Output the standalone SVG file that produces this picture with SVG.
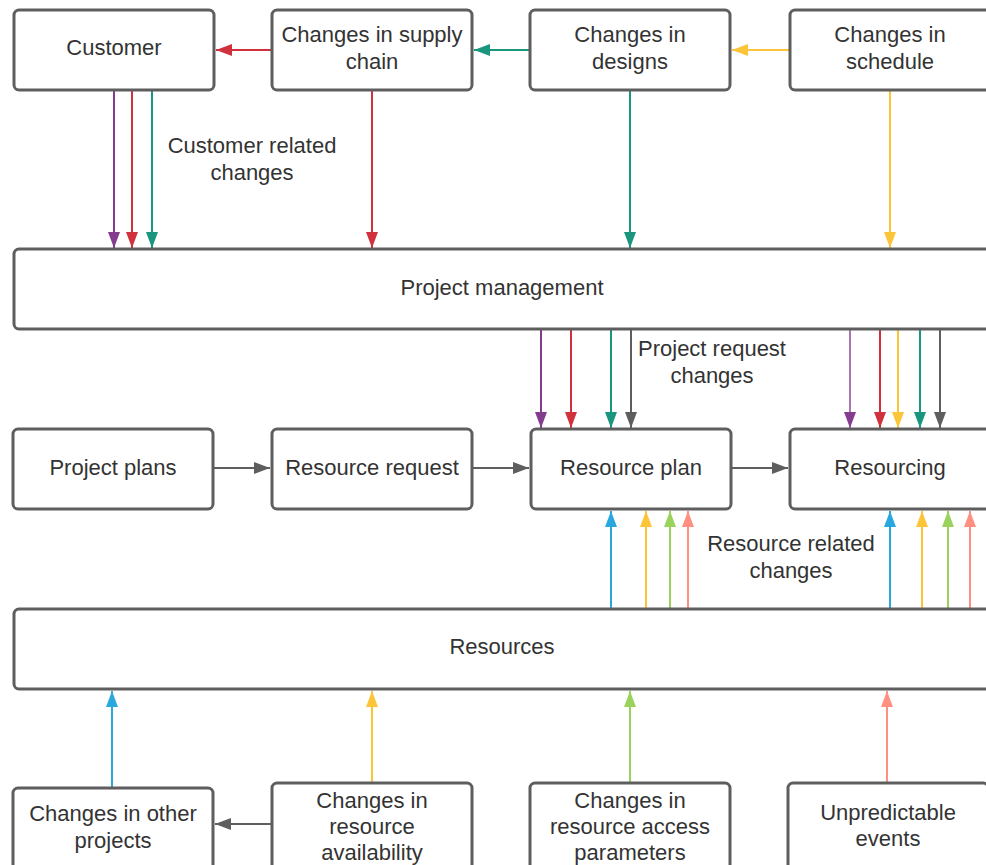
<svg xmlns="http://www.w3.org/2000/svg" width="986" height="865" viewBox="0 0 986 865">
  <style>
    .box { fill: #ffffff; stroke: #5e5e5e; stroke-width: 3; }
    .lbl { font-family: "Liberation Sans", Arial, sans-serif; font-size: 22px; fill: #333333; text-anchor: middle; }
    .ln { fill: none; stroke-width: 2; }
    .gray { stroke: #5e5e5e; }
    .purple { stroke: #843c8e; }
    .red { stroke: #d1313d; }
    .teal { stroke: #19967d; }
    .yellow { stroke: #fcc438; }
    .blue { stroke: #29a8e0; }
    .green { stroke: #99d35b; }
    .salmon { stroke: #ff8f80; }
  </style>
  <defs>
    <marker id="a-gray" markerUnits="userSpaceOnUse" markerWidth="17" markerHeight="12" refX="16" refY="6" orient="auto"><path d="M0,0 L16,6 L0,12 z" fill="#5e5e5e"/></marker>
    <marker id="a-purple" markerUnits="userSpaceOnUse" markerWidth="17" markerHeight="12" refX="16" refY="6" orient="auto"><path d="M0,0 L16,6 L0,12 z" fill="#843c8e"/></marker>
    <marker id="a-red" markerUnits="userSpaceOnUse" markerWidth="17" markerHeight="12" refX="16" refY="6" orient="auto"><path d="M0,0 L16,6 L0,12 z" fill="#d1313d"/></marker>
    <marker id="a-teal" markerUnits="userSpaceOnUse" markerWidth="17" markerHeight="12" refX="16" refY="6" orient="auto"><path d="M0,0 L16,6 L0,12 z" fill="#19967d"/></marker>
    <marker id="a-yellow" markerUnits="userSpaceOnUse" markerWidth="17" markerHeight="12" refX="16" refY="6" orient="auto"><path d="M0,0 L16,6 L0,12 z" fill="#fcc438"/></marker>
    <marker id="a-blue" markerUnits="userSpaceOnUse" markerWidth="17" markerHeight="12" refX="16" refY="6" orient="auto"><path d="M0,0 L16,6 L0,12 z" fill="#29a8e0"/></marker>
    <marker id="a-green" markerUnits="userSpaceOnUse" markerWidth="17" markerHeight="12" refX="16" refY="6" orient="auto"><path d="M0,0 L16,6 L0,12 z" fill="#99d35b"/></marker>
    <marker id="a-salmon" markerUnits="userSpaceOnUse" markerWidth="17" markerHeight="12" refX="16" refY="6" orient="auto"><path d="M0,0 L16,6 L0,12 z" fill="#ff8f80"/></marker>
  </defs>
  <rect width="986" height="865" fill="#ffffff"/>

  <!-- connectors -->
  <g id="connectors">
    <!-- top row, right to left -->
    <line class="ln red" x1="272" y1="50" x2="216" y2="50" marker-end="url(#a-red)"/>
    <line class="ln teal" x1="529" y1="50" x2="474" y2="50" marker-end="url(#a-teal)"/>
    <line class="ln yellow" x1="790" y1="50" x2="732" y2="50" marker-end="url(#a-yellow)"/>
    <!-- top row into project management -->
    <line class="ln purple" x1="114" y1="90" x2="114" y2="248" marker-end="url(#a-purple)"/>
    <line class="ln red" x1="132" y1="90" x2="132" y2="248" marker-end="url(#a-red)"/>
    <line class="ln teal" x1="152" y1="90" x2="152" y2="248" marker-end="url(#a-teal)"/>
    <line class="ln red" x1="372" y1="90" x2="372" y2="248" marker-end="url(#a-red)"/>
    <line class="ln teal" x1="630" y1="90" x2="630" y2="248" marker-end="url(#a-teal)"/>
    <line class="ln yellow" x1="890" y1="90" x2="890" y2="248" marker-end="url(#a-yellow)"/>
    <!-- project management into resource plan -->
    <line class="ln purple" x1="541" y1="330" x2="541" y2="428" marker-end="url(#a-purple)"/>
    <line class="ln red" x1="571" y1="330" x2="571" y2="428" marker-end="url(#a-red)"/>
    <line class="ln teal" x1="611" y1="330" x2="611" y2="428" marker-end="url(#a-teal)"/>
    <line class="ln gray" x1="631" y1="330" x2="631" y2="428" marker-end="url(#a-gray)"/>
    <!-- project management into resourcing -->
    <line class="ln purple" x1="850" y1="330" x2="850" y2="428" marker-end="url(#a-purple)" stroke-opacity="0.7"/>
    <line class="ln red" x1="880" y1="330" x2="880" y2="428" marker-end="url(#a-red)"/>
    <line class="ln yellow" x1="898" y1="330" x2="898" y2="428" marker-end="url(#a-yellow)"/>
    <line class="ln teal" x1="920" y1="330" x2="920" y2="428" marker-end="url(#a-teal)"/>
    <line class="ln gray" x1="940" y1="330" x2="940" y2="428" marker-end="url(#a-gray)"/>
    <!-- middle row flow -->
    <line class="ln gray" x1="213" y1="468" x2="270" y2="468" marker-end="url(#a-gray)"/>
    <line class="ln gray" x1="472" y1="468" x2="529" y2="468" marker-end="url(#a-gray)"/>
    <line class="ln gray" x1="731" y1="468" x2="788" y2="468" marker-end="url(#a-gray)"/>
    <!-- resources up into resource plan -->
    <line class="ln blue" x1="611" y1="608" x2="611" y2="511" marker-end="url(#a-blue)"/>
    <line class="ln yellow" x1="646" y1="608" x2="646" y2="511" marker-end="url(#a-yellow)"/>
    <line class="ln green" x1="670" y1="608" x2="670" y2="511" marker-end="url(#a-green)"/>
    <line class="ln salmon" x1="688" y1="608" x2="688" y2="511" marker-end="url(#a-salmon)"/>
    <!-- resources up into resourcing -->
    <line class="ln blue" x1="890" y1="608" x2="890" y2="511" marker-end="url(#a-blue)"/>
    <line class="ln yellow" x1="922" y1="608" x2="922" y2="511" marker-end="url(#a-yellow)"/>
    <line class="ln green" x1="948" y1="608" x2="948" y2="511" marker-end="url(#a-green)"/>
    <line class="ln salmon" x1="970" y1="608" x2="970" y2="511" marker-end="url(#a-salmon)"/>
    <!-- bottom row up into resources -->
    <line class="ln blue" x1="112" y1="788" x2="112" y2="691" marker-end="url(#a-blue)"/>
    <line class="ln yellow" x1="372" y1="783" x2="372" y2="691" marker-end="url(#a-yellow)"/>
    <line class="ln green" x1="630" y1="783" x2="630" y2="691" marker-end="url(#a-green)"/>
    <line class="ln salmon" x1="887" y1="783" x2="887" y2="691" marker-end="url(#a-salmon)"/>
    <line class="ln gray" x1="272" y1="824" x2="215" y2="824" marker-end="url(#a-gray)"/>
  </g>

  <!-- connector labels -->
  <g id="labels">
    <text class="lbl" x="252" y="153">Customer related</text>
    <text class="lbl" x="252" y="180">changes</text>
    <text class="lbl" x="712" y="356">Project request</text>
    <text class="lbl" x="712" y="383">changes</text>
    <text class="lbl" x="791" y="551">Resource related</text>
    <text class="lbl" x="791" y="578">changes</text>
  </g>

  <!-- top row -->
  <g id="customer">
    <rect class="box" x="14" y="10" width="200" height="80" rx="5"/>
    <text class="lbl" x="114" y="55">Customer</text>
  </g>
  <g id="supply-chain">
    <rect class="box" x="272" y="10" width="200" height="80" rx="5"/>
    <text class="lbl" x="372" y="42">Changes in supply</text>
    <text class="lbl" x="372" y="69">chain</text>
  </g>
  <g id="designs">
    <rect class="box" x="530" y="10" width="200" height="80" rx="5"/>
    <text class="lbl" x="630" y="42">Changes in</text>
    <text class="lbl" x="630" y="69">designs</text>
  </g>
  <g id="schedule">
    <rect class="box" x="790" y="10" width="200" height="80" rx="5"/>
    <text class="lbl" x="890" y="42">Changes in</text>
    <text class="lbl" x="890" y="69">schedule</text>
  </g>

  <!-- project management -->
  <g id="project-management">
    <rect class="box" x="14" y="249" width="976" height="80" rx="5"/>
    <text class="lbl" x="502" y="295">Project management</text>
  </g>

  <!-- middle row -->
  <g id="project-plans">
    <rect class="box" x="13" y="429" width="200" height="80" rx="5"/>
    <text class="lbl" x="113" y="475">Project plans</text>
  </g>
  <g id="resource-request">
    <rect class="box" x="272" y="429" width="200" height="80" rx="5"/>
    <text class="lbl" x="372" y="475">Resource request</text>
  </g>
  <g id="resource-plan">
    <rect class="box" x="531" y="429" width="200" height="80" rx="5"/>
    <text class="lbl" x="631" y="475">Resource plan</text>
  </g>
  <g id="resourcing">
    <rect class="box" x="790" y="429" width="200" height="80" rx="5"/>
    <text class="lbl" x="890" y="475">Resourcing</text>
  </g>

  <!-- resources -->
  <g id="resources">
    <rect class="box" x="14" y="609" width="976" height="80" rx="5"/>
    <text class="lbl" x="502" y="654">Resources</text>
  </g>

  <!-- bottom row -->
  <g id="other-projects">
    <rect class="box" x="13" y="788" width="200" height="90" rx="5"/>
    <text class="lbl" x="113" y="821">Changes in other</text>
    <text class="lbl" x="113" y="848">projects</text>
  </g>
  <g id="resource-availability">
    <rect class="box" x="272" y="783" width="200" height="90" rx="5"/>
    <text class="lbl" x="372" y="808">Changes in</text>
    <text class="lbl" x="372" y="834">resource</text>
    <text class="lbl" x="372" y="860">availability</text>
  </g>
  <g id="access-parameters">
    <rect class="box" x="530" y="783" width="200" height="90" rx="5"/>
    <text class="lbl" x="630" y="808">Changes in</text>
    <text class="lbl" x="630" y="834">resource access</text>
    <text class="lbl" x="630" y="860">parameters</text>
  </g>
  <g id="unpredictable-events">
    <rect class="box" x="788" y="783" width="200" height="90" rx="5"/>
    <text class="lbl" x="888" y="820">Unpredictable</text>
    <text class="lbl" x="888" y="846">events</text>
  </g>
</svg>
